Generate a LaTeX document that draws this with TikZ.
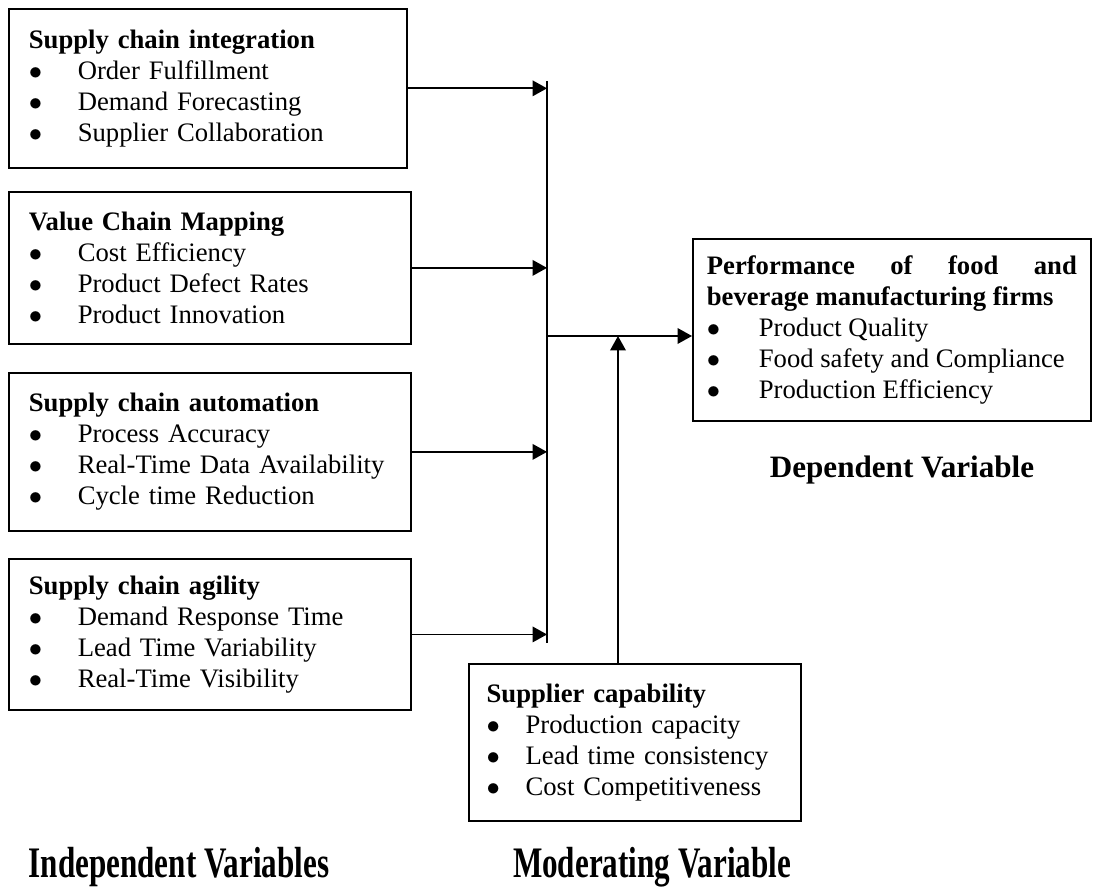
\documentclass[tikz,border=0pt]{standalone}
\usepackage{graphicx}
\usepackage{fontspec}
\setmainfont{Liberation Serif}
\usetikzlibrary{arrows.meta}
\newcommand{\bul}[2][22pt]{\par\makebox[#1][l]{$\bullet$}#2}

\begin{document}
\begin{tikzpicture}[
  x=0.45pt, y=-0.45pt,
  font=\fontsize{12}{14}\selectfont,
  box/.style={draw,line width=0.8pt,anchor=north west,align=left,inner xsep=9pt,inner ysep=0pt},
  arr/.style={line width=0.8pt,-{Triangle[length=6.5pt,width=7pt]}},
  lbl/.style={font=\fontsize{14}{16}\selectfont\bfseries}
]
\useasboundingbox (0,0) rectangle (1094,895);
% independent variables
\node[box,text width=161pt,minimum height=71.5pt] (sci) at (8,8)
  {\textbf{Supply chain integration}\bul{Order Fulfillment}\bul{Demand Forecasting}\bul{Supplier Collaboration}};
\node[box,text width=163pt,minimum height=68.4pt] (vcm) at (8,191)
  {\textbf{Value Chain Mapping}\bul{Cost Efficiency}\bul{Product Defect Rates}\bul{Product Innovation}};
\node[box,text width=163pt,minimum height=71.1pt] (sca) at (8,372)
  {\textbf{Supply chain automation}\bul{Process Accuracy}\bul{Real-Time Data Availability}\bul{Cycle time Reduction}};
\node[box,text width=163pt,minimum height=68pt] (agi) at (8,558)
  {\textbf{Supply chain agility}\bul{Demand Response Time}\bul{Lead Time Variability}\bul{Real-Time Visibility}};

% dependent and moderating variables
\node[box,align=justify,inner xsep=6.3pt,text width=166.5pt,minimum height=82pt] (perf) at (692,238)
  {\hyphenpenalty=10000\textbf{Performance of food and beverage manufacturing firms}\bul[23.4pt]{Product Quality}\bul[23.4pt]{Food safety and Compliance}\bul[23.4pt]{Production Efficiency}};
\node[box,inner xsep=8pt,text width=133.4pt,minimum height=70.6pt] (sup) at (468,663)
  {\textbf{Supplier capability}\bul[17.5pt]{Production capacity}\bul[17.5pt]{Lead time consistency}\bul[17.5pt]{Cost Competitiveness}};

% collector line
\coordinate (top) at (547,81);
\coordinate (bot) at (547,643);
\coordinate (join) at (547,336);
\coordinate (mod) at (618,336);
\draw[line width=0.8pt] (top) -- (bot);
\foreach \b in {sci,vcm,sca,agi}
  { \draw[arr] (\b.east) -- (\b.east -| top); }
\draw[arr] (join) -- (join -| perf.west);
\draw[arr] (mod |- sup.north) -- (mod);

% captions
\node[lbl] (dep) at (902,470) {Dependent Variable};
\node[lbl] (ind) at (179,867) {\scalebox{1}[1.4]{Independent Variables}};
\node[lbl] (moder) at (652,867) {\scalebox{1}[1.4]{Moderating Variable}};
\end{tikzpicture}
\end{document}
